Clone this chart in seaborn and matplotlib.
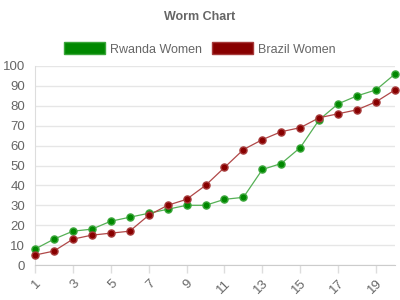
import seaborn as sns
import matplotlib.pyplot as plt
import pandas as pd
from matplotlib.patches import Patch

games = list(range(1, 21))
rwanda = [8, 13, 17, 18, 22, 24, 26, 28, 30, 30, 33, 34, 48, 51, 59, 73, 81, 85, 88, 96]
brazil = [5, 7, 13, 15, 16, 17, 25, 30, 33, 40, 49, 58, 63, 67, 69, 74, 76, 78, 82, 88]
series_names = ["Rwanda Women", "Brazil Women"]
x_ticks = [1, 3, 5, 7, 9, 11, 13, 15, 17, 19]
y_ticks = [0, 10, 20, 30, 40, 50, 60, 70, 80, 90, 100]

df = pd.DataFrame({
    "game": games * 2,
    "value": rwanda + brazil,
    "team": [series_names[0]] * len(games) + [series_names[1]] * len(games),
})

sns.set_style("white")
plt.rcParams["font.family"] = ["Liberation Sans", "DejaVu Sans"]

marker_colors = {series_names[0]: "#008800", series_names[1]: "#880000"}
line_colors = {series_names[0]: "#55b055", series_names[1]: "#b04848"}
edge_colors = {series_names[0]: "#3aa63a", series_names[1]: "#a63a3a"}

fig = plt.figure(figsize=(4, 3), dpi=100)
ax = fig.add_axes([35 / 400, 35 / 300, 360 / 400, 199 / 300])

sns.lineplot(data=df, x="game", y="value", hue="team", palette=line_colors,
             linewidth=0.9, ax=ax, legend=False, clip_on=False, zorder=3)
for name in series_names:
    sub = df[df["team"] == name]
    sns.scatterplot(data=sub, x="game", y="value", color=marker_colors[name],
                    edgecolor=edge_colors[name], linewidth=1.0, s=26, ax=ax,
                    legend=False, clip_on=False, zorder=4)

ax.set_xlim(1, 20)
ax.set_ylim(0, 100)
ax.set_xticks(x_ticks)
ax.set_xticklabels([str(t) for t in x_ticks], rotation=45, ha="right",
                   rotation_mode="anchor")
ax.set_yticks(y_ticks)
ax.set_xlabel("")
ax.set_ylabel("")
ax.yaxis.grid(True, color="#e6e6e6", linewidth=1)
ax.xaxis.grid(False)
ax.set_axisbelow(True)
for s in ["top", "right"]:
    ax.spines[s].set_visible(False)
ax.spines["left"].set_color("#dddddd")
ax.spines["bottom"].set_color("#cccccc")
ax.tick_params(axis="y", length=5, width=1, color="#e0e0e0", labelsize=9.5,
               labelcolor="#666666", pad=2)
ax.tick_params(axis="x", length=6, width=1, color="#dddddd", labelsize=9.5,
               labelcolor="#666666", pad=3, bottom=True)

fig.text(0.5, 1 - 17 / 300, "Worm Chart", ha="center", va="center",
         weight="bold", color="#666666", fontsize=9)

handles = [Patch(facecolor=marker_colors[n], edgecolor=edge_colors[n], label=n)
           for n in series_names]
fig.legend(handles=handles, loc="center", bbox_to_anchor=(0.5, 1 - 49 / 300),
           ncol=2, frameon=False, fontsize=9.0, labelcolor="#666666",
           handlelength=3.3, handleheight=1.1, handletextpad=0.4,
           columnspacing=0.8)

fig.savefig("out.png", dpi=100)
